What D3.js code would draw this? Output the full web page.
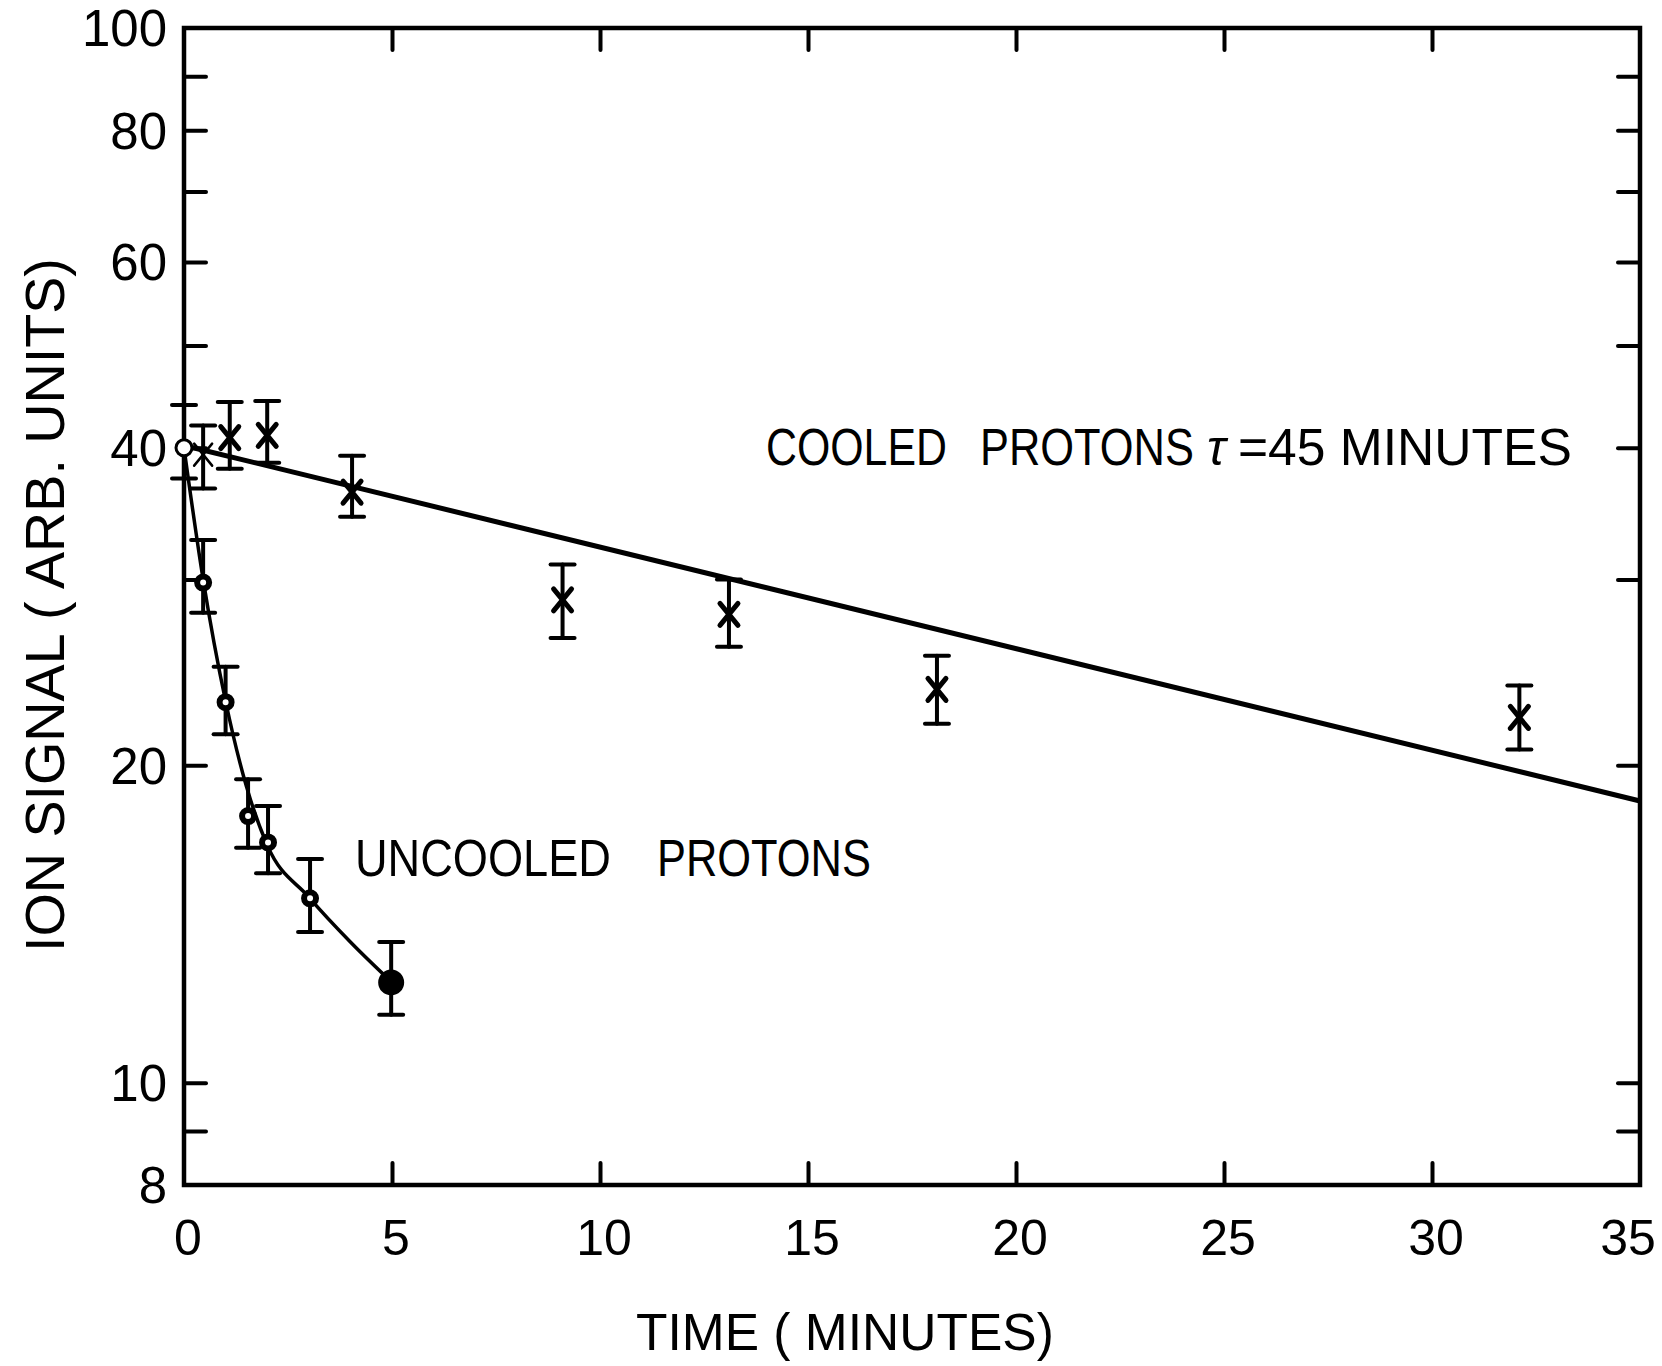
<!DOCTYPE html>
<html>
<head>
<meta charset="utf-8">
<script src="https://cdn.jsdelivr.net/npm/d3@7"></script>
<style>
  html, body { margin: 0; padding: 0; background: #fff; }
  svg { display: block; }
  text { font-family: "Liberation Sans", Arial, sans-serif; fill: #000; white-space: pre; }
</style>
</head>
<body>
<div id="showBox"></div>
<script>
// cooled protons (x markers)
const cooledTime = [0.46, 1.1, 2.0, 4.04, 9.1, 13.1, 18.1, 32.1]
const cooledSignal = [39.4, 40.9, 41.1, 36.3, 28.7, 27.8, 23.6, 22.2]
const cooledLow = [36.6, 38.2, 38.7, 34.4, 26.4, 25.9, 21.9, 20.7]
const cooledHigh = [42.0, 44.2, 44.3, 39.3, 31.0, 30.0, 25.4, 23.8]
// fit line, tau = 45 minutes (end points)
const fitTime = [0, 35]
const fitSignal = [40.2, 18.5]

// uncooled protons (circles)
const uncooledTime = [0, 0.46, 1.0, 1.54, 2.02, 3.03, 4.98]
const uncooledSignal = [40.0, 29.8, 22.95, 17.9, 16.9, 14.96, 12.45]
const uncooledLow = [37.4, 27.9, 21.4, 16.7, 15.8, 13.9, 11.6]
const uncooledHigh = [43.9, 32.7, 24.8, 19.4, 18.3, 16.3, 13.6]
// hand drawn curve through the uncooled points
const curveTime = [0, 0.46, 1.0, 1.5, 2.0, 3.0, 4.0, 5.0]
const curveSignal = [40.0, 30.0, 23.0, 19.1, 16.8, 15.0, 13.6, 12.45]

const xTicks = [0, 5, 10, 15, 20, 25, 30, 35]
const yTicks = [8, 9, 10, 20, 30, 40, 50, 60, 70, 80, 90, 100]
const yLabels = [8, 10, 20, 40, 60, 80, 100]

const W = 1662, H = 1366
const mLeft = 184, mRight = 1640, mTop = 28, mBottom = 1185

const x = d3.scaleLinear().domain([0, 35]).range([mLeft, mRight])
const y = d3.scaleLog().domain([8, 100]).range([mBottom, mTop])

const svg = d3.select("#showBox").append("svg")
    .attr("width", W).attr("height", H)

// inner ticks (no labels) on all four sides
const tickLen = 22
const inner = (axis, vals) => axis.tickValues(vals).tickSizeInner(-tickLen).tickSizeOuter(0).tickFormat("")

svg.append("g").attr("transform", `translate(0,${mBottom})`)
    .call(inner(d3.axisBottom(x), xTicks.slice(1, -1)))
svg.append("g").attr("transform", `translate(0,${mTop})`)
    .call(inner(d3.axisTop(x), xTicks.slice(1, -1)))
svg.append("g").attr("transform", `translate(${mLeft},0)`)
    .call(inner(d3.axisLeft(y), yTicks.slice(1, -1)))
svg.append("g").attr("transform", `translate(${mRight},0)`)
    .call(inner(d3.axisRight(y), yTicks.slice(1, -1)))

svg.selectAll(".domain").remove()
svg.selectAll(".tick line").attr("stroke", "#000").attr("stroke-width", 4).attr("stroke-linecap", "round")

// frame
svg.append("rect")
    .attr("x", mLeft).attr("y", mTop)
    .attr("width", mRight - mLeft).attr("height", mBottom - mTop)
    .attr("fill", "none").attr("stroke", "#000").attr("stroke-width", 4.5)

// tick labels
svg.append("g")
    .attr("font-size", 51)
    .attr("text-anchor", "end")
    .selectAll("text")
    .data(yLabels)
    .join("text")
    .attr("x", 167)
    .attr("y", d => y(d))
    .attr("dy", "0.36em")
    .text(d => d)

svg.append("g")
    .attr("font-size", 50)
    .attr("text-anchor", "middle")
    .selectAll("text")
    .data(xTicks)
    .join("text")
    .attr("x", d => x(d) + (d === 35 ? -12 : 4))
    .attr("y", 1255)
    .text(d => d)

// text squeezed horizontally to a given width (hand lettering is narrow)
function fitted(txt, size, len, transform) {
    const t = svg.append("text").attr("font-size", size).text(txt)
    const w = t.node().getComputedTextLength()
    t.attr("transform", `${transform} scale(${len / w},1)`)
    return t
}

// axis titles
fitted("TIME ( MINUTES)", 52, 418, "translate(636,1350)")
fitted("ION SIGNAL ( ARB. UNITS)", 56, 694, "translate(64,952) rotate(-90)")

// series labels: each word placed where it sits in the reference
fitted("COOLED", 52, 181, "translate(766,465)")
fitted("PROTONS", 52, 214, "translate(980,465)")
svg.append("text")
    .attr("x", 1207).attr("y", 465)
    .attr("font-size", 50)
    .attr("font-family", "DejaVu Serif")
    .attr("font-style", "italic")
    .text("τ")
fitted("=45 MINUTES", 52, 334, "translate(1238,465)")

fitted("UNCOOLED", 52, 256, "translate(355,876)")
fitted("PROTONS", 52, 214, "translate(657,876)")

// fit line for cooled protons
const fit = fitTime.map((t, i) => [t, fitSignal[i]])
svg.append("path")
    .datum(fit)
    .attr("fill", "none").attr("stroke", "#000").attr("stroke-width", 5)
    .attr("d", d3.line().x(d => x(d[0])).y(d => y(d[1])))

// curve through uncooled protons
const curve = curveTime.map((t, i) => [t, curveSignal[i]])
svg.append("path")
    .datum(curve)
    .attr("fill", "none").attr("stroke", "#000").attr("stroke-width", 3.5)
    .attr("d", d3.line().curve(d3.curveMonotoneX).x(d => x(d[0])).y(d => y(d[1])))

// error bars
function errorBars(times, low, high) {
    const g = svg.append("g").attr("stroke", "#000").attr("stroke-width", 4).attr("stroke-linecap", "round")
    const cap = 12
    times.forEach((t, i) => {
        const cx = x(t)
        g.append("line").attr("x1", cx).attr("x2", cx).attr("y1", y(low[i])).attr("y2", y(high[i]))
        g.append("line").attr("x1", cx - cap).attr("x2", cx + cap).attr("y1", y(low[i])).attr("y2", y(low[i]))
        g.append("line").attr("x1", cx - cap).attr("x2", cx + cap).attr("y1", y(high[i])).attr("y2", y(high[i]))
    })
}
errorBars(uncooledTime, uncooledLow, uncooledHigh)
errorBars(cooledTime, cooledLow, cooledHigh)

// cooled markers: X
svg.append("g")
    .attr("stroke", "#000").attr("stroke-linecap", "round").attr("fill", "none")
    .selectAll("path")
    .data(cooledTime.map((t, i) => [t, cooledSignal[i]]))
    .join("path")
    .attr("stroke-width", (d, i) => i === 0 ? 2.5 : 5)
    .attr("d", d => {
        const cx = x(d[0]), cy = y(d[1]), s = 9, h = 11
        return `M${cx - s},${cy - h}L${cx + s},${cy + h}M${cx + s},${cy - h}L${cx - s},${cy + h}`
    })

// uncooled markers: circles (first open, last filled)
const last = uncooledTime.length - 1
svg.append("g")
    .selectAll("circle")
    .data(uncooledTime.map((t, i) => [t, uncooledSignal[i]]))
    .join("circle")
    .attr("cx", d => x(d[0]))
    .attr("cy", d => y(d[1]))
    .attr("r", (d, i) => i === 0 ? 8 : i === last ? 10 : 6)
    .attr("fill", (d, i) => i === last ? "#000" : "#fff")
    .attr("stroke", "#000")
    .attr("stroke-width", (d, i) => i === 0 ? 3 : 6)
</script>
</body>
</html>
